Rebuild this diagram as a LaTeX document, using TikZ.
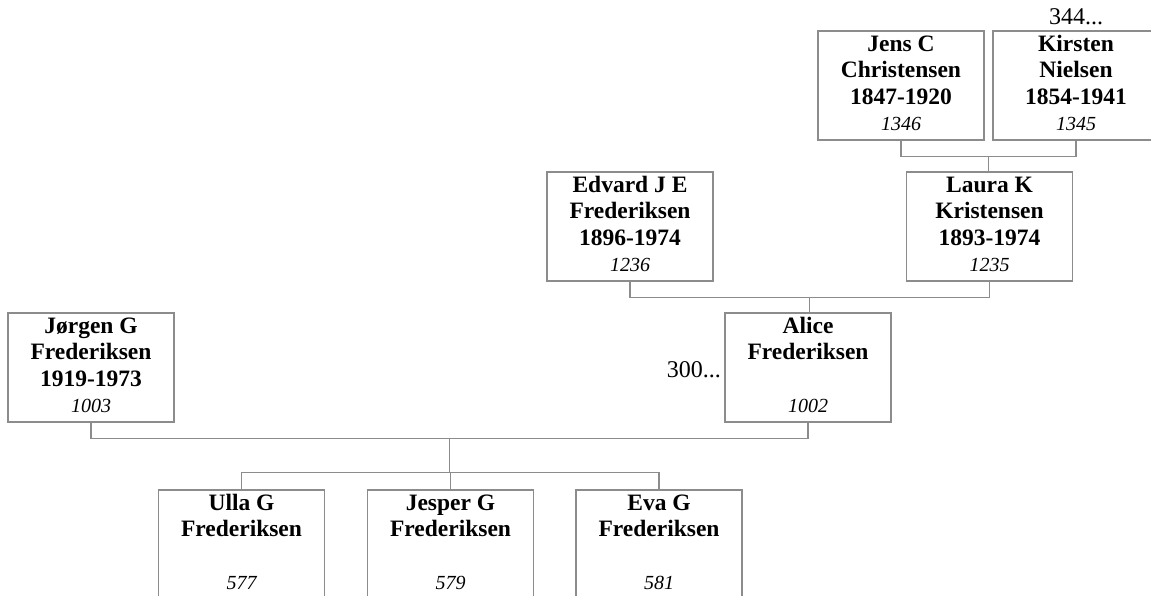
\documentclass[tikz,border=0pt]{standalone}
\usepackage{fontspec}
\setmainfont{Liberation Serif}
\usetikzlibrary{calc}
\definecolor{linegray}{RGB}{140,140,140}
\tikzset{
  pbox/.style={draw=linegray, line width=1.3pt, minimum width=166pt, minimum height=109pt, inner sep=0pt},
  nm/.style={font=\bfseries\fontsize{23.5}{27}\selectfont, inner sep=0pt, anchor=base},
  num/.style={font=\itshape\fontsize{20}{22}\selectfont, inner sep=0pt, anchor=base},
  more/.style={font=\fontsize{24}{27}\selectfont, inner sep=0pt},
  conn/.style={draw=linegray, line width=1.3pt}
}
% #1 name, #2 center x, #3 top y, #4 #5 #6 lines, #7 number
\newcommand\famperson[7]{%
  \node[pbox] (#1) at (#2,#3+54.5) {};
  \node[nm] (#1-a) at ($(#1.north)+(0,21)$) {#4};
  \node[nm] (#1-b) at ($(#1.north)+(0,47.5)$) {#5};
  \node[nm] (#1-c) at ($(#1.north)+(0,74)$) {#6};
  \node[num] (#1-n) at ($(#1.north)+(0,100)$) {#7};
}
\begin{document}
\begin{tikzpicture}[x=1pt,y=-1pt]
\useasboundingbox (0,0) rectangle (1151,596);
\clip (0,0) rectangle (1151,596);
\famperson{jens}{901}{31}{Jens C}{Christensen}{1847-1920}{1346}
\famperson{kirsten}{1076}{31}{Kirsten}{Nielsen}{1854-1941}{1345}
\famperson{edvard}{630}{172}{Edvard J E}{Frederiksen}{1896-1974}{1236}
\famperson{laura}{989.5}{172}{Laura K}{Kristensen}{1893-1974}{1235}
\famperson{jorgen}{91}{313}{Jørgen G}{Frederiksen}{1919-1973}{1003}
\famperson{alice}{808}{313}{Alice}{Frederiksen}{}{1002}
\famperson{ulla}{241.5}{490}{Ulla G}{Frederiksen}{}{577}
\famperson{jesper}{450.5}{490}{Jesper G}{Frederiksen}{}{579}
\famperson{eva}{659}{490}{Eva G}{Frederiksen}{}{581}
\node[more, anchor=base] (more344) at (1076,25) {344...};
\node[more, anchor=base east] (more300) at (721,377) {300...};
% connectors
\coordinate (m1) at ($(jens.south)!0.5!(kirsten.south)+(0,16)$);
\draw[conn] (jens.south) -- ++(0,16) -| (kirsten.south);
\draw[conn] (m1) -- (m1 |- laura.north);
\coordinate (m2) at ($(edvard.south)!0.5!(laura.south)+(0,16)$);
\draw[conn] (edvard.south) -- ++(0,16) -| (laura.south);
\draw[conn] (m2) -- (m2 |- alice.north);
\coordinate (m3) at ($(jorgen.south)!0.5!(alice.south)+(0,16)$);
\draw[conn] (jorgen.south) -- ++(0,16) -| (alice.south);
\coordinate (bar) at ($(m3)+(0,34)$);
\draw[conn] (m3) -- (bar);
\draw[conn] (ulla.north) -- (ulla.north |- bar) -- (eva.north |- bar) -- (eva.north);
\draw[conn] (jesper.north |- bar) -- (jesper.north);
\end{tikzpicture}
\end{document}
